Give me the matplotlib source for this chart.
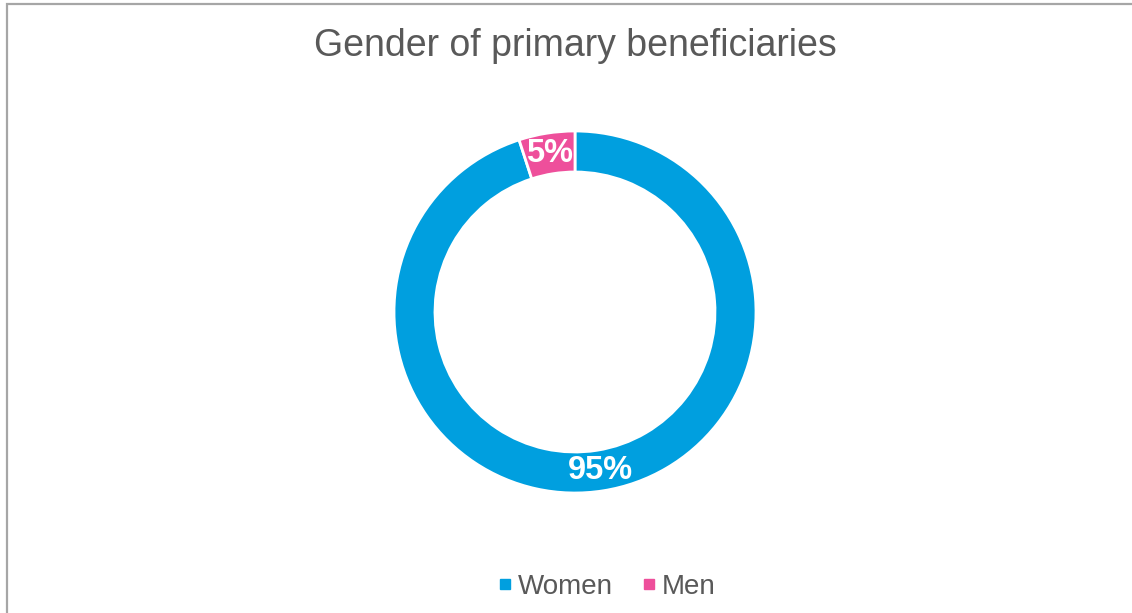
import matplotlib.pyplot as plt
import matplotlib.patches as patches
from matplotlib.lines import Line2D

plt.rcParams['font.family'] = ['Liberation Sans', 'DejaVu Sans']

# Data
categories = ["Women", "Men"]
shares = [95, 5]
colors = ["#009FDF", "#EE4F9B"]

W, H = 1132, 613
fig = plt.figure(figsize=(W / 100, H / 100), dpi=100)
ax = fig.add_axes([0, 0, 1, 1])

# outer chart border (right/bottom edges fall outside the image)
border = patches.Rectangle((6.5, -20), 2000, H - 3.5 + 20, fill=False,
                           edgecolor="#A6A6A6", linewidth=1.6)
ax.add_patch(border)

outer_r = 181
ring_w = 41
wedges, _, autotexts = ax.pie(
    shares, colors=colors, center=(575, H - 312), radius=outer_r,
    startangle=90, counterclock=False,
    wedgeprops=dict(width=ring_w, edgecolor="white", linewidth=2),
    autopct='%.0f%%', pctdistance=(outer_r - ring_w / 2) / outer_r,
    frame=True)
for t in autotexts:
    t.set_color("white")
    t.set_fontsize(23.5)
    t.set_fontweight("bold")

ax.set_xlim(0, W)
ax.set_ylim(0, H)
ax.set_aspect('equal')
ax.axis('off')

ax.text(575, H - 46, "Gender of primary beneficiaries", ha="center", va="center",
        fontsize=27, color="#595959")

handles = [Line2D([], [], marker='s', linestyle='none', markersize=7.5,
                  markerfacecolor=c, markeredgecolor=c) for c in colors]
ax.legend(handles, categories, loc="center", bbox_to_anchor=(606 / W, 1 - 587 / H),
          bbox_transform=fig.transFigure, ncol=2, frameon=False, fontsize=20,
          labelcolor="#595959", handletextpad=0.15, columnspacing=1.0,
          handlelength=0.6, borderpad=0)

fig.savefig("out.png", dpi=100)
